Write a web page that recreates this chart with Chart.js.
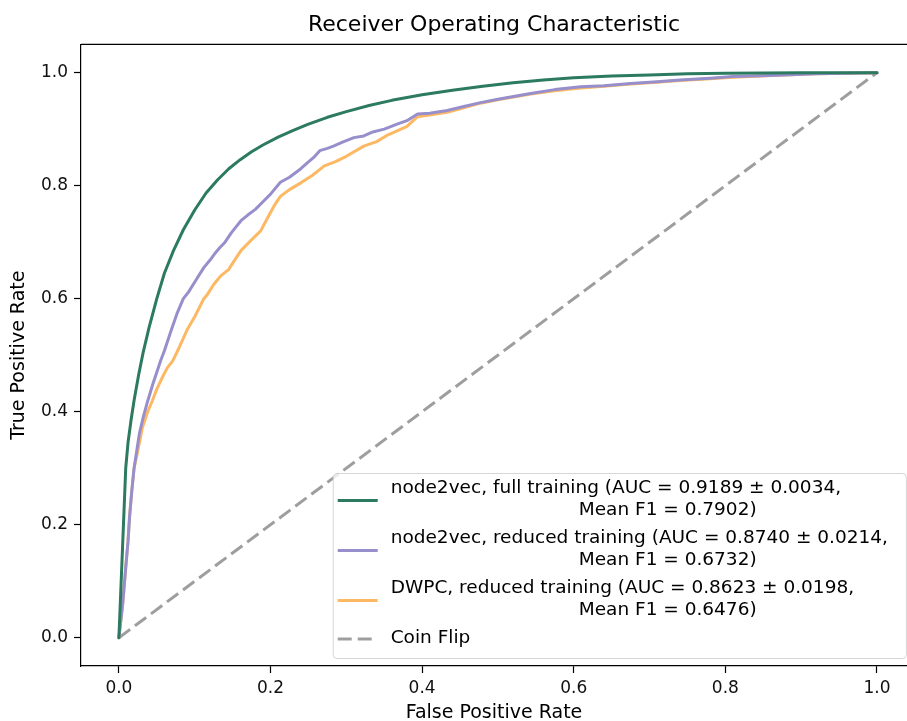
<!DOCTYPE html>
<html>
<head>
<meta charset="utf-8">
<script src="https://cdn.jsdelivr.net/npm/chart.js@4.4.1/dist/chart.umd.min.js"></script>
<style>
  html, body { margin: 0; padding: 0; background: #fff; overflow: hidden; }
</style>
</head>
<body>
<canvas id="roc" width="907" height="721"></canvas>
<script>
// values
const xTicks = [0, 0.2, 0.4, 0.6, 0.8, 1.0];
const yTicks = [0, 0.2, 0.4, 0.6, 0.8, 1.0];

const fullFpr = [0, 0.009, 0.012, 0.016, 0.020, 0.026, 0.032, 0.040, 0.050, 0.060, 0.072, 0.085, 0.100, 0.115, 0.130, 0.145, 0.160, 0.175, 0.190, 0.210, 0.230, 0.250, 0.275, 0.300, 0.330, 0.360, 0.400, 0.440, 0.480, 0.520, 0.560, 0.600, 0.650, 0.700, 0.750, 0.800, 0.850, 0.900, 1.0];
const fullTpr = [0, 0.30, 0.345, 0.385, 0.42, 0.465, 0.505, 0.55, 0.60, 0.645, 0.685, 0.722, 0.757, 0.787, 0.81, 0.83, 0.846, 0.86, 0.872, 0.886, 0.898, 0.909, 0.921, 0.931, 0.942, 0.951, 0.961, 0.969, 0.976, 0.982, 0.987, 0.991, 0.994, 0.996, 0.998, 0.999, 0.9995, 1.0, 1.0];

const reducedFpr = [0, 0.005, 0.009, 0.012, 0.014, 0.017, 0.020, 0.024, 0.027, 0.032, 0.038, 0.045, 0.050, 0.055, 0.060, 0.068, 0.077, 0.085, 0.092, 0.098, 0.104, 0.112, 0.120, 0.126, 0.133, 0.140, 0.148, 0.155, 0.161, 0.170, 0.180, 0.191, 0.200, 0.213, 0.225, 0.240, 0.250, 0.257, 0.265, 0.275, 0.283, 0.295, 0.310, 0.323, 0.335, 0.350, 0.367, 0.380, 0.394, 0.410, 0.433, 0.455, 0.477, 0.500, 0.543, 0.575, 0.609, 0.640, 0.675, 0.710, 0.740, 0.780, 0.810, 0.860, 0.920, 1.0];
const reducedTpr = [0, 0.06, 0.124, 0.17, 0.213, 0.26, 0.30, 0.335, 0.361, 0.39, 0.419, 0.45, 0.47, 0.49, 0.508, 0.54, 0.575, 0.600, 0.612, 0.625, 0.638, 0.655, 0.668, 0.679, 0.690, 0.700, 0.716, 0.728, 0.738, 0.748, 0.758, 0.773, 0.785, 0.806, 0.815, 0.830, 0.842, 0.850, 0.862, 0.866, 0.870, 0.877, 0.885, 0.888, 0.895, 0.900, 0.909, 0.915, 0.927, 0.928, 0.933, 0.940, 0.947, 0.953, 0.963, 0.970, 0.975, 0.977, 0.981, 0.984, 0.987, 0.990, 0.993, 0.995, 0.998, 1.0];

const dwpcFpr = [0, 0.005, 0.009, 0.012, 0.014, 0.017, 0.020, 0.025, 0.031, 0.038, 0.044, 0.050, 0.057, 0.064, 0.071, 0.080, 0.090, 0.100, 0.112, 0.117, 0.125, 0.134, 0.145, 0.152, 0.161, 0.174, 0.187, 0.195, 0.205, 0.213, 0.225, 0.240, 0.255, 0.271, 0.285, 0.300, 0.323, 0.340, 0.355, 0.367, 0.380, 0.394, 0.410, 0.433, 0.455, 0.477, 0.500, 0.543, 0.575, 0.609, 0.640, 0.675, 0.710, 0.740, 0.780, 0.810, 0.860, 0.920, 1.0];
const dwpcTpr = [0, 0.06, 0.124, 0.17, 0.213, 0.26, 0.30, 0.331, 0.372, 0.40, 0.419, 0.44, 0.46, 0.478, 0.49, 0.515, 0.545, 0.568, 0.600, 0.608, 0.625, 0.640, 0.652, 0.667, 0.685, 0.703, 0.720, 0.740, 0.765, 0.781, 0.793, 0.805, 0.818, 0.835, 0.842, 0.852, 0.870, 0.878, 0.890, 0.897, 0.905, 0.922, 0.925, 0.930, 0.938, 0.946, 0.952, 0.962, 0.968, 0.973, 0.976, 0.980, 0.983, 0.986, 0.989, 0.992, 0.995, 0.998, 1.0];

const coinFpr = [0, 1];
const coinTpr = [0, 1];

const seriesLabels = [
  ['node2vec, full training (AUC = 0.9189 \u00b1 0.0034,', 'Mean F1 = 0.7902)'],
  ['node2vec, reduced training (AUC = 0.8740 \u00b1 0.0214,', 'Mean F1 = 0.6732)'],
  ['DWPC, reduced training (AUC = 0.8623 \u00b1 0.0198,', 'Mean F1 = 0.6476)'],
  ['Coin Flip']
];

const FONT = 'DejaVu Sans';
// the axes run to 1.05 but the picture is cut off a little before that
const AXIS_END = 1.05;
const VISIBLE_END = 1.0396;

function toPoints(xs, ys) {
  return xs.map((x, i) => ({ x: x, y: ys[i] }));
}

// matplotlib style multi-line legend, lower right inside the axes
const boxLegend = {
  id: 'boxLegend',
  afterDatasetsDraw(chart) {
    const ctx = chart.ctx;
    const area = chart.chartArea;
    const sets = chart.data.datasets;
    const indent = 188;
    ctx.save();
    ctx.font = '18.5px ' + FONT;
    let textW = 0;
    sets.forEach(ds => ds.lines.forEach((l, j) => {
      textW = Math.max(textW, ctx.measureText(l).width + (j > 0 ? indent : 0));
    }));
    const lineH = 22, gap = 6;
    let h = 15 + 20;
    sets.forEach((ds, i) => { h += (ds.lines.length - 1) * lineH + (i < sets.length - 1 ? lineH + gap : 0); });
    const right = chart.scales.x.getPixelForValue(AXIS_END) - 9;
    const bottom = area.bottom - 8;
    const top = bottom - h;
    const textX = right - 18 - textW;
    const left = textX - 58;

    ctx.beginPath();
    ctx.roundRect(left + 0.5, top + 0.5, right - left, bottom - top, 4);
    ctx.fillStyle = 'rgba(255,255,255,0.8)';
    ctx.fill();
    ctx.strokeStyle = 'rgba(204,204,204,0.8)';
    ctx.lineWidth = 1;
    ctx.stroke();

    ctx.textBaseline = 'middle';
    ctx.fillStyle = '#000';
    let y = top + 15;
    sets.forEach(ds => {
      const n = ds.lines.length;
      const mid = y + (n - 1) * lineH / 2 + (n > 1 ? 1.5 : 1);
      ctx.beginPath();
      ctx.setLineDash(ds.borderDash || []);
      ctx.strokeStyle = ds.borderColor;
      ctx.lineWidth = ds.borderWidth;
      ctx.moveTo(left + 5, mid);
      ctx.lineTo(left + 45, mid);
      ctx.stroke();
      ctx.setLineDash([]);
      ds.lines.forEach((l, j) => {
        ctx.fillText(l, textX + (j > 0 ? indent : 0), y + j * lineH);
      });
      y += n * lineH + gap;
    });
    ctx.restore();
  }
};

// top spine of the axes
const frame = {
  id: 'frame',
  afterDraw(chart) {
    const { ctx, chartArea: a } = chart;
    ctx.save();
    ctx.strokeStyle = '#000';
    ctx.lineWidth = 1.2;
    ctx.beginPath();
    ctx.moveTo(a.left, a.top);
    ctx.lineTo(a.right, a.top);
    ctx.stroke();
    ctx.restore();
  }
};

const lineStyle = { pointRadius: 0, borderWidth: 3, fill: false, tension: 0, borderJoinStyle: 'round', borderCapStyle: 'round' };

new Chart(document.getElementById('roc'), {
  type: 'line',
  data: {
    datasets: [
      Object.assign({ label: seriesLabels[0].join(' '), lines: seriesLabels[0], data: toPoints(fullFpr, fullTpr), borderColor: '#2c7a5f' }, lineStyle),
      Object.assign({ label: seriesLabels[1].join(' '), lines: seriesLabels[1], data: toPoints(reducedFpr, reducedTpr), borderColor: '#978fcc' }, lineStyle),
      Object.assign({ label: seriesLabels[2].join(' '), lines: seriesLabels[2], data: toPoints(dwpcFpr, dwpcTpr), borderColor: '#fdb863' }, lineStyle),
      Object.assign({ label: seriesLabels[3][0], lines: seriesLabels[3], data: toPoints(coinFpr, coinTpr), borderColor: 'rgba(153,153,153,0.95)' }, lineStyle, { borderDash: [14, 6], borderCapStyle: 'butt' })
    ]
  },
  options: {
    responsive: false,
    animation: false,
    layout: { padding: 0 },
    plugins: {
      legend: { display: false },
      tooltip: { enabled: false },
      title: {
        display: true,
        text: 'Receiver Operating Characteristic',
        fullSize: false,
        align: 'center',
        color: '#000',
        font: { family: FONT, size: 22, weight: 'normal' },
        padding: { top: 12, bottom: 6 }
      }
    },
    scales: {
      x: {
        type: 'linear',
        min: -0.05,
        max: VISIBLE_END,
        afterBuildTicks: s => { s.ticks = xTicks.map(v => ({ value: v })); },
        afterFit: s => { s.height = 55; },
        ticks: {
          color: '#111',
          font: { family: FONT, size: 17 },
          padding: 5,
          maxRotation: 0,
          callback: v => v.toFixed(1)
        },
        grid: { display: true, drawOnChartArea: false, drawTicks: true, tickLength: 7, tickWidth: 1.2, tickColor: '#000' },
        border: { display: true, color: '#000', width: 1.2 },
        title: { display: true, text: 'False Positive Rate', color: '#000', font: { family: FONT, size: 19 }, padding: { top: 0, bottom: -3 } }
      },
      y: {
        type: 'linear',
        min: -0.05,
        max: 1.05,
        afterBuildTicks: s => { s.ticks = yTicks.map(v => ({ value: v })); },
        afterFit: s => { s.width = 81; },
        ticks: {
          color: '#111',
          font: { family: FONT, size: 17 },
          padding: 6,
          callback: v => v.toFixed(1)
        },
        grid: { display: true, drawOnChartArea: false, drawTicks: true, tickLength: 7, tickWidth: 1.2, tickColor: '#000' },
        border: { display: true, color: '#000', width: 1.2 },
        title: { display: true, text: 'True Positive Rate', color: '#000', font: { family: FONT, size: 19 }, padding: { top: 8, bottom: 0 } }
      }
    }
  },
  plugins: [boxLegend, frame]
});
</script>
</body>
</html>
